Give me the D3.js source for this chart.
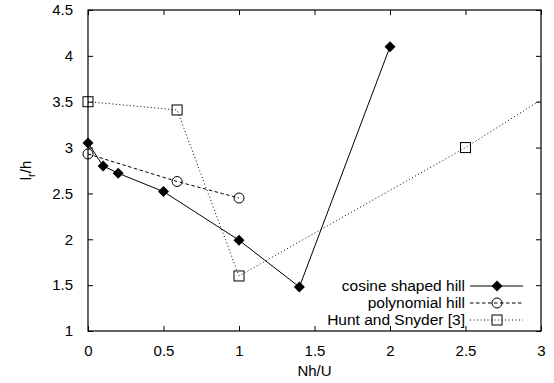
<!DOCTYPE html>
<html>
<head>
<meta charset="utf-8">
<script src="https://cdn.jsdelivr.net/npm/d3@7"></script>
<style>
  body { margin: 0; background: #fff; }
  text { font-family: "Liberation Sans", Arial, sans-serif; font-size: 15px; fill: #000; }
</style>
</head>
<body>
<div id="chart"></div>
<script>
// series values
const cosineX = [0, 0.1, 0.2, 0.5, 1.0, 1.4, 2.0];
const cosineY = [3.05, 2.80, 2.72, 2.52, 1.99, 1.48, 4.10];

const polyX = [0, 0.59, 1.0];
const polyY = [2.93, 2.63, 2.45];

// last point lies outside the x range, only the line towards it shows
const huntX = [0, 0.59, 1.0, 2.5, 3.5];
const huntY = [3.50, 3.41, 1.60, 3.00, 4.04];

const xTicks = [0, 0.5, 1, 1.5, 2, 2.5, 3];
const yTicks = [1, 1.5, 2, 2.5, 3, 3.5, 4, 4.5];

const legendLabels = ['cosine shaped hill', 'polynomial hill', 'Hunt and Snyder [3]'];

const W = 554, H = 383;
const margin = { top: 10, right: 13, bottom: 52, left: 88 };
const width = W - margin.left - margin.right;
const height = H - margin.top - margin.bottom;

const svg = d3.select('#chart')
  .append('svg')
  .attr('width', W)
  .attr('height', H);

const x = d3.scaleLinear().domain([0, 3]).range([0, width]);
const y = d3.scaleLinear().domain([1, 4.5]).range([height, 0]);

const g = svg.append('g')
  .attr('transform', 'translate(' + margin.left + ',' + margin.top + ')');

// clip so the Hunt line stops at the frame
g.append('clipPath').attr('id', 'clip')
  .append('rect').attr('width', width).attr('height', height);

// axes, ticks pointing inward on all four sides
const tickLen = 5;
const fmt = d => String(d);

const xBottom = g.append('g').attr('transform', 'translate(0,' + height + ')')
  .call(d3.axisBottom(x).tickValues(xTicks).tickSizeInner(-tickLen).tickSizeOuter(0).tickPadding(14).tickFormat(fmt));
const xTop = g.append('g')
  .call(d3.axisTop(x).tickValues(xTicks).tickSizeInner(-tickLen).tickSizeOuter(0).tickFormat(''));
const yLeft = g.append('g')
  .call(d3.axisLeft(y).tickValues(yTicks).tickSizeInner(-tickLen).tickSizeOuter(0).tickPadding(15).tickFormat(fmt));
const yRight = g.append('g').attr('transform', 'translate(' + width + ',0)')
  .call(d3.axisRight(y).tickValues(yTicks).tickSizeInner(-tickLen).tickSizeOuter(0).tickFormat(''));

[xBottom, xTop, yLeft, yRight].forEach(a => {
  a.select('.domain').remove();
  a.selectAll('line').attr('stroke', '#000').attr('stroke-width', 1);
  a.selectAll('text').style('font-size', '15px').attr('fill', '#000');
});

g.append('rect')
  .attr('width', width)
  .attr('height', height)
  .attr('fill', 'none')
  .attr('stroke', '#000')
  .attr('stroke-width', 1.2);

// axis titles
svg.append('text')
  .attr('x', margin.left + width / 2)
  .attr('y', 376)
  .attr('text-anchor', 'middle')
  .text('Nh/U');

const yl = svg.append('text')
  .attr('transform', 'translate(31,' + (margin.top + height / 2) + ') rotate(-90)')
  .attr('text-anchor', 'middle');
yl.append('tspan').text('l');
yl.append('tspan').attr('dy', 4).style('font-size', '11px').text('r');
yl.append('tspan').attr('dy', -4).text('/h');

// series
const series = [
  { xs: cosineX, ys: cosineY, dash: null, marker: 'diamond' },
  { xs: polyX, ys: polyY, dash: '3.5,2.5', marker: 'circle' },
  { xs: huntX, ys: huntY, dash: '1,2.5', marker: 'square' }
];

const line = d3.line().x(d => x(d[0])).y(d => y(d[1]));

function drawMarker(sel, type, cx, cy) {
  if (type === 'diamond') {
    sel.append('path')
      .attr('d', 'M' + cx + ',' + (cy - 5.5) + 'L' + (cx + 5.5) + ',' + cy + 'L' + cx + ',' + (cy + 5.5) + 'L' + (cx - 5.5) + ',' + cy + 'Z')
      .attr('fill', '#000');
  } else if (type === 'circle') {
    sel.append('circle')
      .attr('cx', cx).attr('cy', cy).attr('r', 5)
      .attr('fill', 'none').attr('stroke', '#000').attr('stroke-width', 1);
  } else {
    sel.append('rect')
      .attr('x', cx - 5).attr('y', cy - 5).attr('width', 10).attr('height', 10)
      .attr('fill', 'none').attr('stroke', '#000').attr('stroke-width', 1);
  }
}

series.forEach(s => {
  const pts = s.xs.map((v, i) => [v, s.ys[i]]);
  g.append('path')
    .datum(pts)
    .attr('clip-path', 'url(#clip)')
    .attr('d', line)
    .attr('fill', 'none')
    .attr('stroke', '#000')
    .attr('stroke-width', 1)
    .attr('stroke-dasharray', s.dash);
  const mg = g.append('g');
  pts.filter(p => p[0] <= 3).forEach(p => drawMarker(mg, s.marker, x(p[0]), y(p[1])));
});

// legend, bottom right inside the frame
const legend = svg.append('g');
const rowY = [286, 303, 320];
series.forEach((s, i) => {
  legend.append('text')
    .attr('x', 465)
    .attr('y', rowY[i])
    .attr('dy', '0.35em')
    .attr('text-anchor', 'end')
    .style('font-size', '15.5px')
    .text(legendLabels[i]);
  legend.append('line')
    .attr('x1', 470).attr('x2', 523)
    .attr('y1', rowY[i]).attr('y2', rowY[i])
    .attr('stroke', '#000')
    .attr('stroke-width', 1)
    .attr('stroke-dasharray', s.dash);
  drawMarker(legend, s.marker, 497, rowY[i]);
});
</script>
</body>
</html>
